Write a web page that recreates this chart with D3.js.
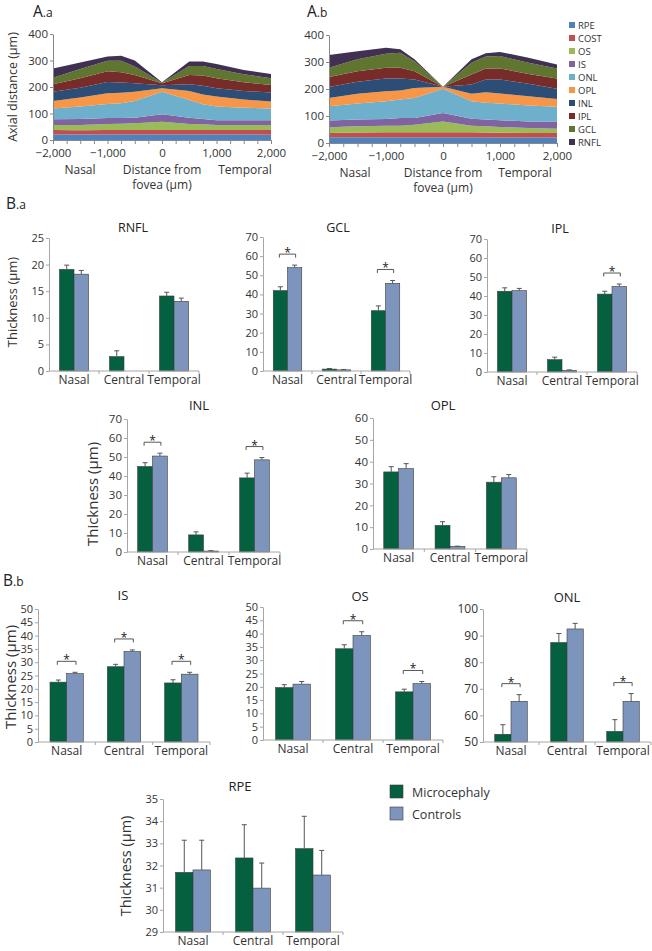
<!DOCTYPE html>
<html>
<head>
<meta charset="utf-8">
<script src="https://cdn.jsdelivr.net/npm/d3@7"></script>
<style>
  body { margin: 0; background: #fff; }
  text { font-family: "Open Sans", sans-serif; }
</style>
</head>
<body>
<div class="figure"></div>
<script>
// ---- profile data (layer thickness, µm) ----
let positions = [-2000, -1500, -1000, -750, -500, 0, 500, 750, 1000, 1500, 2000];
let layers = ["RPE", "COST", "OS", "IS", "ONL", "OPL", "INL", "IPL", "GCL", "RNFL"];

// A.a microcephaly
let aRPE = [21, 21, 21, 21, 21, 21, 21, 21, 21, 21, 20];
let aCOST = [17, 16, 17, 17, 17, 17, 17, 17, 17, 17, 18];
let aOS = [19, 20, 22, 23, 25, 31, 22, 21, 19, 19, 19];
let aIS = [21, 22, 23, 22, 21, 28, 24, 20, 18, 18, 18];
let aONL = [41, 47, 53, 56, 63, 85, 67, 56, 51, 47, 44];
let aOPL = [28, 34, 40, 39, 35, 13, 34, 37, 38, 31, 26];
let aINL = [35, 37, 43, 39, 32, 12, 25, 33, 31, 32, 34];
let aIPL = [28, 36, 40, 39, 31, 7, 35, 38, 38, 33, 29];
let aGCL = [25, 35, 40, 43, 32, 2, 34, 36, 35, 30, 25];
let aRNFL = [35, 24, 16, 19, 23, 2, 17, 17, 19, 16, 16];

// A.b controls
let bRPE = [21, 21, 21, 21, 21, 21, 21, 21, 20, 20, 20];
let bCOST = [16, 18, 19, 19, 19, 19, 19, 18, 18, 17, 17];
let bOS = [21, 23, 24, 24, 28, 40, 24, 23, 21, 19, 16];
let bIS = [25, 25, 25, 29, 25, 31, 26, 25, 25, 24, 27];
let bONL = [53, 59, 66, 68, 74, 90, 65, 62, 62, 59, 54];
let bOPL = [31, 36, 37, 33, 37, 7, 27, 39, 37, 34, 29];
let bINL = [40, 45, 47, 45, 31, 0, 35, 47, 52, 46, 38];
let bIPL = [37, 39, 40, 40, 31, 0, 37, 41, 41, 37, 38];
let bGCL = [35, 44, 52, 55, 37, 0, 43, 44, 46, 41, 37];
let bRNFL = [47, 30, 22, 13, 7, 0, 13, 12, 15, 19, 15];

let profileYTicks = [0, 100, 200, 300, 400];
let profileXLabels = [-2000, -1000, 0, 1000, 2000];

// ---- bar chart data (mean, SEM) ----
let categories = ["Nasal", "Central", "Temporal"];

let rnflMicro = [19.1, 2.7, 14.1], rnflMicroErr = [0.8, 1.1, 0.7];
let rnflCtrl = [18.2, 0, 13.1], rnflCtrlErr = [0.7, 0, 0.6];
let rnflSig = [false, false, false];
let rnflTicks = [0, 5, 10, 15, 20, 25];

let gclMicro = [42, 1.0, 31.5], gclMicroErr = [2, 0.3, 2.5];
let gclCtrl = [54, 0.6, 45.8], gclCtrlErr = [1.3, 0.2, 1.5];
let gclSig = [true, false, true];
let gclTicks = [0, 10, 20, 30, 40, 50, 60, 70];

let iplMicro = [42.5, 6.5, 41], iplMicroErr = [1.8, 1.3, 1.5];
let iplCtrl = [42.8, 0.9, 45], iplCtrlErr = [1.2, 0.2, 1.3];
let iplSig = [false, false, true];
let iplTicks = [0, 10, 20, 30, 40, 50, 60, 70];

let inlMicro = [45, 9, 39], inlMicroErr = [2, 1.6, 2.5];
let inlCtrl = [50.5, 0.5, 48.5], inlCtrlErr = [1.5, 0.2, 1.2];
let inlSig = [true, false, true];
let inlTicks = [0, 10, 20, 30, 40, 50, 60, 70];

let oplMicro = [35.3, 10.8, 30.6], oplMicroErr = [2.4, 1.7, 2.5];
let oplCtrl = [36.8, 1.2, 32.6], oplCtrlErr = [2.3, 0.1, 1.5];
let oplSig = [false, false, false];
let oplTicks = [0, 10, 20, 30, 40, 50, 60];

let isMicro = [22.5, 28.3, 22.2], isMicroErr = [0.8, 0.9, 1.2];
let isCtrl = [25.7, 34, 25.5], isCtrlErr = [0.5, 0.6, 0.7];
let isSig = [true, true, true];
let isTicks = [0, 5, 10, 15, 20, 25, 30, 35, 40, 45, 50];

let osMicro = [19.7, 34.3, 18.1], osMicroErr = [1.1, 1.5, 1.0];
let osCtrl = [21, 39.3, 21.2], osCtrlErr = [1.0, 1.4, 0.8];
let osSig = [false, true, true];
let osTicks = [0, 5, 10, 15, 20, 25, 30, 35, 40, 45, 50];

let onlMicro = [52.9, 87.4, 54], onlMicroErr = [3.6, 3.4, 4.4];
let onlCtrl = [65.3, 92.5, 65.3], onlCtrlErr = [2.5, 2.1, 2.9];
let onlSig = [true, false, true];
let onlTicks = [50, 60, 70, 80, 90, 100];

let rpeMicro = [31.69, 32.34, 32.76], rpeMicroErr = [1.45, 1.5, 1.46];
let rpeCtrl = [31.8, 30.98, 31.57], rpeCtrlErr = [1.34, 1.13, 1.11];
let rpeSig = [false, false, false];
let rpeTicks = [29, 30, 31, 32, 33, 34, 35];

let seriesNames = ["Microcephaly", "Controls"];

// ---- styles ----
let layerColors = {
  RPE: "#4f81bd", COST: "#c0504d", OS: "#9bbb59", IS: "#8064a2", ONL: "#6eb0cc",
  OPL: "#f79646", INL: "#2c4d75", IPL: "#772c2a", GCL: "#5f7530", RNFL: "#403152"
};
let microColor = "#04603f";
let ctrlColor = "#7d94bc";
let textColor = "#333";
let axisColor = "#a6a6a6";

let svg = d3
  .select(".figure")
  .append("svg")
  .attr("width", 652)
  .attr("height", 951);

function panelLabel(x, y, big, small) {
  let t = svg.append("text").attr("x", x).attr("y", y).attr("fill", "#222");
  t.append("tspan").attr("font-size", 15.5).text(big);
  t.append("tspan").attr("font-size", 12).text(small);
}

function yLabel(x, y, size, txt) {
  svg
    .append("text")
    .attr("transform", "translate(" + x + "," + y + ") rotate(-90)")
    .attr("text-anchor", "middle")
    .attr("dominant-baseline", "central")
    .attr("font-size", size)
    .attr("fill", textColor)
    .text(txt);
}

function styleAxis(g, size) {
  g.select(".domain").attr("stroke", axisColor);
  g.selectAll(".tick line").attr("stroke", axisColor);
  g.selectAll(".tick text")
    .attr("fill", textColor)
    .attr("font-size", size)
    .attr("font-family", "'Open Sans', sans-serif");
}

// ---- stacked profiles ----
function drawProfile(cols, cfg) {
  let rows = positions.map(function (p, i) {
    let r = { pos: p };
    layers.forEach(function (k, j) {
      r[k] = cols[j][i];
    });
    return r;
  });
  let xScale = d3.scaleLinear().domain([-2000, 2000]).range([cfg.left, cfg.right]);
  let yScale = d3.scaleLinear().domain([0, 400]).range([cfg.bottom, cfg.top]);
  let series = d3.stack().keys(layers)(rows);
  let area = d3
    .area()
    .x(function (d) { return xScale(d.data.pos); })
    .y0(function (d) { return yScale(d[0]); })
    .y1(function (d) { return yScale(d[1]); });

  svg
    .append("g")
    .selectAll("path")
    .data(series)
    .enter()
    .append("path")
    .attr("d", area)
    .attr("fill", function (d) { return layerColors[d.key]; });

  let yAxis = d3.axisLeft(yScale).tickValues(profileYTicks).tickSize(3).tickSizeOuter(0).tickPadding(2);
  let gy = svg.append("g").attr("transform", "translate(" + cfg.left + ",0)").call(yAxis);
  styleAxis(gy, 11.5);
  gy.select(".domain").attr("stroke", "#888");
  gy.selectAll(".tick line").attr("stroke", "#888");

  let xAxis = d3
    .axisBottom(xScale)
    .tickValues(d3.range(-2000, 2001, 250))
    .tickSize(4)
    .tickSizeOuter(0)
    .tickPadding(5)
    .tickFormat(function (d) {
      return profileXLabels.indexOf(d) >= 0 ? d3.format(",")(d) : "";
    });
  let gx = svg.append("g").attr("transform", "translate(0," + cfg.bottom + ")").call(xAxis);
  styleAxis(gx, 11.5);
  gx.select(".domain").attr("stroke", "#888");
  gx.selectAll(".tick line").attr("stroke", "#888");

  let lab = [
    ["Nasal", cfg.nasalX, cfg.bottom + 34],
    ["Distance from", xScale(0), cfg.bottom + 34],
    ["fovea (µm)", xScale(0), cfg.bottom + 49],
    ["Temporal", cfg.tempX, cfg.bottom + 34]
  ];
  svg
    .append("g")
    .selectAll("text")
    .data(lab)
    .enter()
    .append("text")
    .attr("x", function (d) { return d[1]; })
    .attr("y", function (d) { return d[2]; })
    .attr("text-anchor", "middle")
    .attr("font-size", 12)
    .attr("fill", textColor)
    .text(function (d) { return d[0]; });
}

panelLabel(33, 17, "A", ".a");
drawProfile(
  [aRPE, aCOST, aOS, aIS, aONL, aOPL, aINL, aIPL, aGCL, aRNFL],
  { left: 53, right: 271, top: 34, bottom: 140, nasalX: 80, tempX: 245 }
);
yLabel(12, 87, 12.5, "Axial distance (µm)");

panelLabel(307, 17, "A", ".b");
drawProfile(
  [bRPE, bCOST, bOS, bIS, bONL, bOPL, bINL, bIPL, bGCL, bRNFL],
  { left: 329, right: 557, top: 35, bottom: 143, nasalX: 355, tempX: 525 }
);

// layer legend (top entry = RPE)
let lg = svg
  .append("g")
  .selectAll("g")
  .data(layers)
  .enter()
  .append("g")
  .attr("transform", function (d, i) { return "translate(569," + (25 + i * 13) + ")"; });
lg.append("rect")
  .attr("x", 0)
  .attr("y", -3)
  .attr("width", 6)
  .attr("height", 6)
  .attr("fill", function (d) { return layerColors[d]; });
lg.append("text")
  .attr("x", 9)
  .attr("y", 0)
  .attr("dominant-baseline", "central")
  .attr("font-size", 9.5)
  .attr("fill", textColor)
  .text(function (d) { return d; });

// ---- bar charts ----
let panels = [
  { title: "RNFL", micro: rnflMicro, microErr: rnflMicroErr, ctrl: rnflCtrl, ctrlErr: rnflCtrlErr, sig: rnflSig, ticks: rnflTicks,
    x0: 49, x1: 199, yTop: 238, yBot: 371, titleX: 133, titleY: 232, tick: 11, tsize: 12.5, ylab: [12, 302, 13] },
  { title: "GCL", micro: gclMicro, microErr: gclMicroErr, ctrl: gclCtrl, ctrlErr: gclCtrlErr, sig: gclSig, ticks: gclTicks,
    x0: 263, x1: 410, yTop: 237, yBot: 371, titleX: 338, titleY: 232, tick: 11, tsize: 12.5 },
  { title: "IPL", micro: iplMicro, microErr: iplMicroErr, ctrl: iplCtrl, ctrlErr: iplCtrlErr, sig: iplSig, ticks: iplTicks,
    x0: 487, x1: 637, yTop: 239, yBot: 372, titleX: 560, titleY: 233, tick: 11, tsize: 12.5 },
  { title: "INL", micro: inlMicro, microErr: inlMicroErr, ctrl: inlCtrl, ctrlErr: inlCtrlErr, sig: inlSig, ticks: inlTicks,
    x0: 127, x1: 280, yTop: 419, yBot: 552, titleX: 199, titleY: 410, tick: 11.5, tsize: 13, ylab: [92, 494, 15] },
  { title: "OPL", micro: oplMicro, microErr: oplMicroErr, ctrl: oplCtrl, ctrlErr: oplCtrlErr, sig: oplSig, ticks: oplTicks,
    x0: 373, x1: 527, yTop: 418, yBot: 549, titleX: 443, titleY: 410, tick: 11.5, tsize: 13 },
  { title: "IS", micro: isMicro, microErr: isMicroErr, ctrl: isCtrl, ctrlErr: isCtrlErr, sig: isSig, ticks: isTicks,
    x0: 38, x1: 210, yTop: 609, yBot: 742, titleX: 123, titleY: 600, tick: 11, tsize: 13, ylab: [10, 677, 15] },
  { title: "OS", micro: osMicro, microErr: osMicroErr, ctrl: osCtrl, ctrlErr: osCtrlErr, sig: osSig, ticks: osTicks,
    x0: 263, x1: 443, yTop: 607, yBot: 740, titleX: 360, titleY: 601, tick: 11, tsize: 13 },
  { title: "ONL", micro: onlMicro, microErr: onlMicroErr, ctrl: onlCtrl, ctrlErr: onlCtrlErr, sig: onlSig, ticks: onlTicks,
    x0: 483, x1: 651, yTop: 609, yBot: 742, titleX: 567, titleY: 602, tick: 12, tsize: 13 },
  { title: "RPE", micro: rpeMicro, microErr: rpeMicroErr, ctrl: rpeCtrl, ctrlErr: rpeCtrlErr, sig: rpeSig, ticks: rpeTicks,
    x0: 163, x1: 343, yTop: 799, yBot: 932, titleX: 240, titleY: 791, tick: 11, tsize: 13, ylab: [125, 866, 14.5] }
];

function drawBars(p) {
  let g = svg.append("g");
  let xScale = d3.scaleBand().domain(categories).range([p.x0, p.x1]);
  let xSub = d3.scaleBand().domain(["micro", "ctrl"]).range([0, xScale.bandwidth()]).paddingOuter(0.72);
  let yScale = d3.scaleLinear().domain(d3.extent(p.ticks)).range([p.yBot, p.yTop]);
  let base = d3.min(p.ticks);

  let bars = [];
  categories.forEach(function (c, i) {
    bars.push({ cat: c, k: "micro", v: p.micro[i], e: p.microErr[i] });
    bars.push({ cat: c, k: "ctrl", v: p.ctrl[i], e: p.ctrlErr[i] });
  });

  g.selectAll("rect")
    .data(bars.filter(function (d) { return d.v > base; }))
    .enter()
    .append("rect")
    .attr("x", function (d) { return xScale(d.cat) + xSub(d.k); })
    .attr("y", function (d) { return yScale(d.v); })
    .attr("width", xSub.bandwidth())
    .attr("height", function (d) { return yScale(base) - yScale(d.v); })
    .attr("fill", function (d) { return d.k === "micro" ? microColor : ctrlColor; })
    .attr("stroke", "#3d3d3d")
    .attr("stroke-width", 0.6);

  // error bars (upper)
  let eb = g
    .selectAll(".err")
    .data(bars.filter(function (d) { return d.e > 0; }))
    .enter()
    .append("g")
    .attr("class", "err");
  eb.append("line")
    .attr("x1", function (d) { return xScale(d.cat) + xSub(d.k) + xSub.bandwidth() / 2; })
    .attr("x2", function (d) { return xScale(d.cat) + xSub(d.k) + xSub.bandwidth() / 2; })
    .attr("y1", function (d) { return yScale(d.v); })
    .attr("y2", function (d) { return yScale(d.v + d.e); })
    .attr("stroke", "#555")
    .attr("stroke-width", 1);
  eb.append("line")
    .attr("x1", function (d) { return xScale(d.cat) + xSub(d.k) + xSub.bandwidth() / 2 - 2.5; })
    .attr("x2", function (d) { return xScale(d.cat) + xSub(d.k) + xSub.bandwidth() / 2 + 2.5; })
    .attr("y1", function (d) { return yScale(d.v + d.e); })
    .attr("y2", function (d) { return yScale(d.v + d.e); })
    .attr("stroke", "#555")
    .attr("stroke-width", 1);

  // significance brackets
  categories.forEach(function (c, i) {
    if (!p.sig[i]) return;
    let top = Math.max(p.micro[i] + p.microErr[i], p.ctrl[i] + p.ctrlErr[i]);
    let by = yScale(top) - 11;
    let xa = xScale(c) + xSub("micro") + xSub.bandwidth() / 2 - 1;
    let xb = xScale(c) + xSub("ctrl") + xSub.bandwidth() / 2 + 1;
    g.append("path")
      .attr("d", "M" + xa + "," + (by + 3.5) + "V" + by + "H" + xb + "V" + (by + 3.5))
      .attr("fill", "none")
      .attr("stroke", "#444")
      .attr("stroke-width", 0.9);
    g.append("text")
      .attr("x", (xa + xb) / 2)
      .attr("y", by + 3)
      .attr("text-anchor", "middle")
      .attr("font-size", 12)
      .attr("fill", "#222")
      .text("*");
  });

  // axes
  let yAxis = d3
    .axisLeft(yScale)
    .tickValues(p.ticks)
    .tickSize(3)
    .tickSizeOuter(0)
    .tickPadding(2)
    .tickFormat(d3.format("d"));
  let gy = svg.append("g").attr("transform", "translate(" + p.x0 + ",0)").call(yAxis);
  styleAxis(gy, p.tick);

  let gx = svg.append("g");
  gx.append("line")
    .attr("x1", p.x0)
    .attr("x2", p.x1)
    .attr("y1", p.yBot)
    .attr("y2", p.yBot)
    .attr("stroke", axisColor);
  gx.selectAll(".sep")
    .data(categories.slice(1).concat(["end"]))
    .enter()
    .append("line")
    .attr("x1", function (d) { return d === "end" ? p.x1 : xScale(d); })
    .attr("x2", function (d) { return d === "end" ? p.x1 : xScale(d); })
    .attr("y1", p.yBot)
    .attr("y2", p.yBot + 3)
    .attr("stroke", axisColor);
  gx.selectAll("text")
    .data(categories)
    .enter()
    .append("text")
    .attr("x", function (d) { return xScale(d) + xScale.bandwidth() / 2; })
    .attr("y", p.yBot + 13)
    .attr("text-anchor", "middle")
    .attr("font-size", 12)
    .attr("fill", textColor)
    .text(function (d) { return d; });

  svg
    .append("text")
    .attr("x", p.titleX)
    .attr("y", p.titleY)
    .attr("text-anchor", "middle")
    .attr("font-size", p.tsize)
    .attr("fill", "#222")
    .text(p.title);

  if (p.ylab) yLabel(p.ylab[0], p.ylab[1], p.ylab[2], "Thickness (µm)");
}

panelLabel(6, 209, "B", ".a");
panelLabel(3, 586, "B", ".b");
panels.forEach(drawBars);

// series legend
let sl = svg
  .append("g")
  .selectAll("g")
  .data(seriesNames)
  .enter()
  .append("g")
  .attr("transform", function (d, i) { return "translate(390," + (785 + i * 22) + ")"; });
sl.append("rect")
  .attr("width", 13)
  .attr("height", 13)
  .attr("fill", function (d, i) { return i === 0 ? microColor : ctrlColor; })
  .attr("stroke", "#3d3d3d")
  .attr("stroke-width", 0.6);
sl.append("text")
  .attr("x", 22)
  .attr("y", 7)
  .attr("dominant-baseline", "central")
  .attr("font-size", 12.5)
  .attr("fill", textColor)
  .text(function (d) { return d; });
</script>
</body>
</html>
